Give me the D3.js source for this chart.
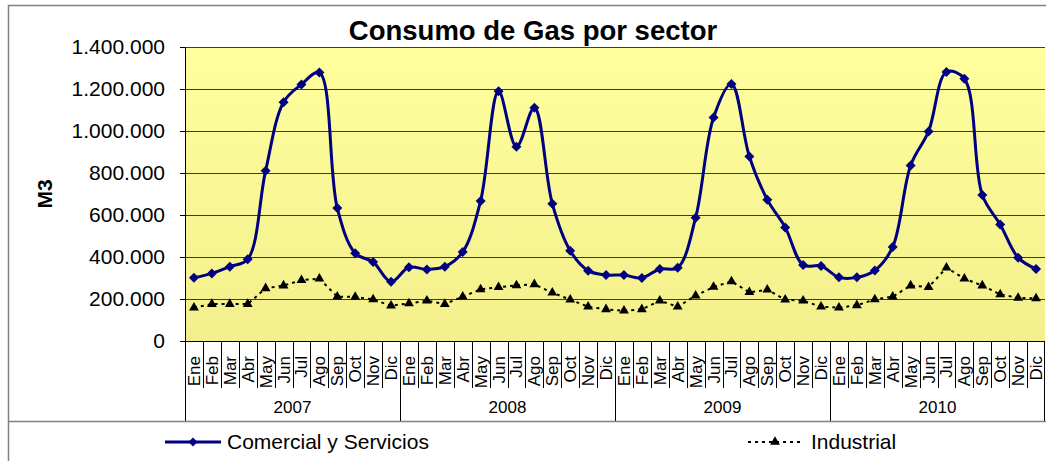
<!DOCTYPE html>
<html><head><meta charset="utf-8">
<script src="https://cdn.jsdelivr.net/npm/d3@7"></script>
<style>body{margin:0;background:#fff}svg{display:block;font-family:Arial,"Liberation Sans",sans-serif}</style>
</head><body><svg id="c" width="1046" height="461"></svg>
<script>
const years = ["2007","2008","2009","2010"];
const months = ["Ene","Feb","Mar","Abr","May","Jun","Jul","Ago","Sep","Oct","Nov","Dic"];
const comercial = [
 301000,322000,354000,389000,811000,1137000,1222000,1278000,633000,418000,376000,282000,
 351000,341000,354000,424000,667000,1189000,925000,1111000,654000,430000,335000,314000,
 314000,300000,343000,349000,587000,1064000,1224000,878000,673000,541000,362000,357000,
 303000,303000,336000,448000,836000,998000,1281000,1249000,695000,555000,397000,343000];
const industrial = [
 159000,176000,176000,176000,251000,264000,290000,297000,211000,210000,198000,168000,
 179000,192000,176000,211000,246000,256000,265000,270000,230000,197000,163000,151000,
 144000,151000,192000,163000,216000,257000,284000,232000,244000,197000,192000,163000,
 159000,170000,198000,211000,264000,256000,349000,297000,264000,222000,205000,203000];
const yTicks = [0,200000,400000,600000,800000,1000000,1200000,1400000];
const title = "Consumo de Gas por sector";
const yLabel = "M3";
const seriesNames = ["Comercial y Servicios","Industrial"];

const svg = d3.select("#c");
const L=185, R=1045, T=47, B=341;
const cats = [];
years.forEach(y=>months.forEach(m=>cats.push(y+"-"+m)));
const x = d3.scaleBand().domain(cats).range([L,R]);
const y = d3.scaleLinear().domain([0,1400000]).range([B,T]);
const fmt = v => d3.format(",")(v).replace(/,/g,".");

// outer frame
svg.append("rect").attr("x",8.5).attr("y",5.5).attr("width",1046).attr("height",470)
  .attr("fill","#fff").attr("stroke","#808080").attr("stroke-width",1.5);

const defs = svg.append("defs");
const g = defs.append("linearGradient").attr("id","bg").attr("x1",0).attr("y1",0).attr("x2",0).attr("y2",1);
g.append("stop").attr("offset","0%").attr("stop-color","#FFFF9E");
g.append("stop").attr("offset","100%").attr("stop-color","#F3EF8C");
svg.append("rect").attr("x",L).attr("y",T).attr("width",R-L).attr("height",B-T).attr("fill","url(#bg)");

// gridlines
svg.append("g").selectAll("line").data(yTicks.filter(d=>d>0)).join("line")
  .attr("x1",L).attr("x2",R).attr("y1",d=>Math.round(y(d))+0.5).attr("y2",d=>Math.round(y(d))+0.5)
  .attr("stroke","#3a3a3a").attr("stroke-width",1.2);

// y axis
const ya = svg.append("g").attr("transform",`translate(${L},0)`)
  .call(d3.axisLeft(y).tickValues(yTicks).tickFormat(fmt).tickSize(5).tickPadding(15));
ya.select(".domain").attr("stroke","#000");
ya.selectAll(".tick line").attr("stroke","#000");
ya.selectAll("text").attr("font-size",21).attr("fill","#000").attr("font-family","Arial, 'Liberation Sans', sans-serif");

// x axis baseline + category boxes
const xa = svg.append("g");
xa.append("line").attr("x1",L).attr("x2",R).attr("y1",B+0.5).attr("y2",B+0.5).attr("stroke","#000");
xa.selectAll(".mt").data(cats.slice(1)).join("line")
  .attr("x1",d=>Math.round(x(d))+0.5).attr("x2",d=>Math.round(x(d))+0.5)
  .attr("y1",B).attr("y2",388).attr("stroke","#000").attr("stroke-width",1);
xa.selectAll(".yt").data(years).join("line")
  .attr("x1",d=>Math.round(x(d+"-Ene"))+0.5).attr("x2",d=>Math.round(x(d+"-Ene"))+0.5)
  .attr("y1",B).attr("y2",421).attr("stroke","#000");
xa.append("line").attr("x1",R-0.5).attr("x2",R-0.5).attr("y1",B).attr("y2",421).attr("stroke","#000");
xa.selectAll(".ml").data(cats).join("text")
  .attr("transform",d=>`translate(${x(d)+x.bandwidth()/2+6},356) rotate(-90)`)
  .attr("text-anchor","end").attr("font-size",17).attr("fill","#000")
  .text(d=>d.split("-")[1]);
xa.selectAll(".yl").data(years).join("text")
  .attr("x",d=>x(d+"-Ene")+6*x.bandwidth()).attr("y",413)
  .attr("text-anchor","middle").attr("font-size",17).attr("fill","#000").text(d=>d);

// legend separator
svg.append("line").attr("x1",8).attr("x2",1046).attr("y1",421.5).attr("y2",421.5).attr("stroke","#808080").attr("stroke-width",1.5);

// lines
const lineC = d3.line().x((d,i)=>x(cats[i])+x.bandwidth()/2).y(d=>y(d)).curve(d3.curveCatmullRom.alpha(0.5));
const lineI = d3.line().x((d,i)=>x(cats[i])+x.bandwidth()/2).y(d=>y(d));
svg.append("path").attr("d",lineI(industrial)).attr("fill","none").attr("stroke","#000")
  .attr("stroke-width",2).attr("stroke-dasharray","3,4");
svg.append("path").attr("d",lineC(comercial)).attr("fill","none").attr("stroke","#000080").attr("stroke-width",3);

const tri = d3.symbol().type(d3.symbolTriangle).size(42);
svg.append("g").selectAll("path").data(comercial).join("path")
  .attr("d",d3.symbol().type(d3.symbolSquare).size(50)()).attr("fill","#000080")
  .attr("transform",(d,i)=>`translate(${x(cats[i])+x.bandwidth()/2},${y(d)}) rotate(45)`);
svg.append("g").selectAll("path").data(industrial).join("path")
  .attr("transform",(d,i)=>`translate(${x(cats[i])+x.bandwidth()/2},${y(d)})`)
  .attr("d",tri()).attr("fill","#000");

// title & y label
svg.append("text").attr("x",533).attr("y",40).attr("text-anchor","middle")
  .attr("font-size",27.5).attr("font-weight","bold").text(title);
svg.append("text").attr("transform","translate(51.5,194) rotate(-90)").attr("text-anchor","middle")
  .attr("font-size",21).attr("font-weight","bold").text(yLabel);

// legend
const lg = svg.append("g");
lg.append("line").attr("x1",165).attr("x2",221).attr("y1",442).attr("y2",442).attr("stroke","#000080").attr("stroke-width",3);
lg.append("path").attr("transform","translate(193,442) rotate(45)").attr("d",d3.symbol().type(d3.symbolSquare).size(40)()).attr("fill","#000080");
lg.append("text").attr("x",227).attr("y",449).attr("font-size",21).text(seriesNames[0]);
lg.append("line").attr("x1",748).attr("x2",802).attr("y1",442).attr("y2",442).attr("stroke","#000").attr("stroke-width",2).attr("stroke-dasharray","3,4");
lg.append("path").attr("transform","translate(775,442)").attr("d",tri()).attr("fill","#000");
lg.append("text").attr("x",811).attr("y",449).attr("font-size",21).text(seriesNames[1]);
</script></body></html>
